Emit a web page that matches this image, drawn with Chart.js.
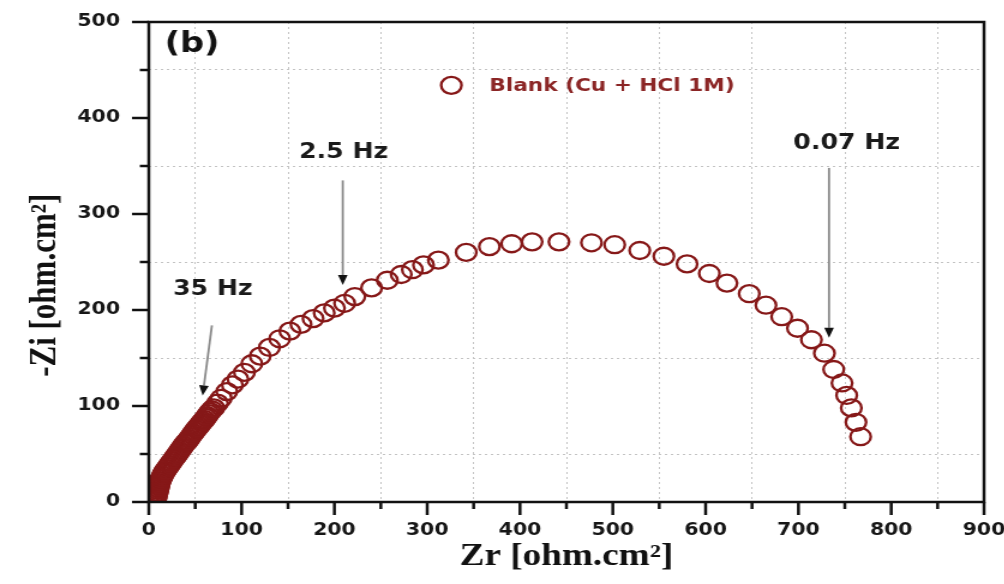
<!DOCTYPE html>
<html><head><meta charset="utf-8">
<script src="https://cdn.jsdelivr.net/npm/chart.js@4.4.1/dist/chart.umd.min.js"></script>
<style>
html,body{margin:0;padding:0;background:#fff;overflow:hidden;}
#wrap{position:absolute;left:0;top:0;width:837px;height:584px;transform:scaleX(1.2);transform-origin:0 0;}
</style></head><body>
<div id="wrap"><canvas id="c"></canvas></div>
<script>
// ---- data ----
const seriesName = 'Blank (Cu + HCl 1M)';
const zr = [7,7.5,8,8.5,9,9.5,10,10.5,11,11.5,12,13,14,15,16,17,18,19.5,21,22.5,24,25.5,27,28.5,30,31.5,33,34.5,36,37.5,39,40.5,42,43.5,45,46.5,48,49.5,51,52.5,54,55.5,57,58.5,60,61.5,63,64.5,66,68,70,74,78,84,90,96,103,111,120,130,141,152,164,177,189,200,211,222,240,257,272,284,296,312,342,367,391,413,442,477,502,529,555,580,604,623,647,665,682,699,714,728,738,747,752,757,762,767];
const zi = [2,4,6,8,10,12,14,16,18,20,22,24,26,28,30,31.5,33,35,37,39,41,43,45,47,49,51,53,55,57,59,61,62.5,64,66,68,70,72,74,76,77.5,79,81,83,84.5,86,88,90,92,94,96,98,103,108,115,122,128,135,144,152,161,170,178,185,191,197,202,207,214,223,231,237,242,247,252,260,266,269,271,271,270,268,262,256,248,238,228,217,205,193,181,169,155,138,124,111,98,83,68];
const xMajorTicks = [0,100,200,300,400,500,600,700,800,900];
const xMinorTicks = [50,150,250,350,450,550,650,750,850];
const yMajorTicks = [0,100,200,300,400,500];
const yMinorTicks = [50,150,250,350,450];
const freqLabels = ['35 Hz','2.5 Hz','0.07 Hz'];
const panelLabel = '(b)';
const xTitle = 'Zr [ohm.cm\u00B2]';
const yTitle = '-Zi [ohm.cm\u00B2]';

// ---- annotation placement (data units) ----
const notePlaces = [
  {tx:69,  ty:221, from:[68,184],  to:[58,111]},
  {tx:210, ty:364, from:[209,335], to:[209,226]},
  {tx:752, ty:373, from:[733,348], to:[733,171]}
];
const legendPlace = {mx:326, my:434, tx:367};
const panelPlace = {x:17, y:476};

const RED = '#861818';
const SANS = '"DejaVu Sans", sans-serif';
const SERIF = '"Liberation Serif", "Times New Roman", serif';

const decor = {
  id:'decor',
  afterDatasetsDraw(chart){
    const {ctx, chartArea:a, scales:{x, y}} = chart;
    ctx.save();
    // frame
    ctx.strokeStyle = '#111'; ctx.lineWidth = 2.5;
    ctx.strokeRect(a.left, a.top, a.right - a.left, a.bottom - a.top);
    // tick marks
    ctx.beginPath();
    xMajorTicks.forEach(v => { const p = x.getPixelForValue(v); ctx.moveTo(p, a.bottom); ctx.lineTo(p, a.bottom + 13); });
    xMinorTicks.forEach(v => { const p = x.getPixelForValue(v); ctx.moveTo(p, a.bottom); ctx.lineTo(p, a.bottom + 7); });
    yMajorTicks.forEach(v => { const p = y.getPixelForValue(v); ctx.moveTo(a.left, p); ctx.lineTo(a.left - 14, p); });
    yMinorTicks.forEach(v => { const p = y.getPixelForValue(v); ctx.moveTo(a.left, p); ctx.lineTo(a.left - 7.5, p); });
    ctx.stroke();

    // frequency notes + arrows
    notePlaces.forEach((n, i) => {
      const x0 = x.getPixelForValue(n.from[0]), y0 = y.getPixelForValue(n.from[1]);
      const x1 = x.getPixelForValue(n.to[0]),   y1 = y.getPixelForValue(n.to[1]);
      const ang = Math.atan2(y1 - y0, x1 - x0);
      const hl = 10, hw = 4;
      const bx = x1 - hl * Math.cos(ang), by = y1 - hl * Math.sin(ang);
      ctx.strokeStyle = '#8a8a8a'; ctx.lineWidth = 1.8;
      ctx.beginPath(); ctx.moveTo(x0, y0); ctx.lineTo(bx, by); ctx.stroke();
      ctx.fillStyle = '#111';
      ctx.beginPath();
      ctx.moveTo(x1, y1);
      ctx.lineTo(bx + hw * Math.sin(ang), by - hw * Math.cos(ang));
      ctx.lineTo(bx - hw * Math.sin(ang), by + hw * Math.cos(ang));
      ctx.closePath(); ctx.fill();
      ctx.fillStyle = '#1a1a1a';
      ctx.font = 'bold 21px ' + SANS;
      ctx.textAlign = 'center'; ctx.textBaseline = 'middle';
      ctx.fillText(freqLabels[i], x.getPixelForValue(n.tx), y.getPixelForValue(n.ty));
    });

    // panel label
    ctx.fillStyle = '#111';
    ctx.font = 'bold 28px ' + SANS;
    ctx.textAlign = 'left'; ctx.textBaseline = 'middle';
    ctx.fillText(panelLabel, x.getPixelForValue(panelPlace.x), y.getPixelForValue(panelPlace.y));

    // legend
    const ds = chart.data.datasets[0];
    const lx = x.getPixelForValue(legendPlace.mx), ly = y.getPixelForValue(legendPlace.my);
    ctx.strokeStyle = ds.borderColor; ctx.lineWidth = ds.pointBorderWidth;
    ctx.beginPath(); ctx.arc(lx, ly, ds.pointRadius, 0, Math.PI * 2); ctx.stroke();
    ctx.fillStyle = '#8b2525';
    ctx.font = 'bold 18px ' + SANS;
    ctx.textAlign = 'left'; ctx.textBaseline = 'middle';
    ctx.fillText(ds.label, x.getPixelForValue(legendPlace.tx), ly + 1);
    ctx.restore();
  }
};

new Chart(document.getElementById('c'), {
  type: 'scatter',
  data: {
    datasets: [{
      label: seriesName,
      data: zr.map((v, i) => ({x: v, y: zi[i]})),
      showLine: false,
      pointStyle: 'circle',
      pointRadius: 8.5,
      pointBorderWidth: 2.3,
      borderColor: RED,
      pointBackgroundColor: 'rgba(0,0,0,0)',
      backgroundColor: 'rgba(0,0,0,0)',
      clip: 0
    }]
  },
  options: {
    responsive: true,
    maintainAspectRatio: false,
    animation: false,
    events: [],
    layout: {padding: {top: 22, right: 17, left: 0, bottom: 0}},
    plugins: {legend: {display: false}, tooltip: {enabled: false}},
    scales: {
      x: {
        type: 'linear', min: 0, max: 900,
        afterBuildTicks: s => { s.ticks = [...xMajorTicks, ...xMinorTicks].sort((a, b) => a - b).map(v => ({value: v})); },
        afterFit: s => { s.height = 82; s.paddingLeft = 0; s.paddingRight = 0; },
        ticks: {
          callback: v => xMajorTicks.includes(v) ? String(v) : '',
          font: {family: SANS, size: 17, weight: 'bold'}, color: '#161616',
          padding: 18, maxRotation: 0, autoSkip: false
        },
        grid: {
          color: c => (c.tick && xMinorTicks.includes(c.tick.value)) ? '#c4c4c4' : 'rgba(0,0,0,0)',
          lineWidth: 1, drawTicks: false
        },
        border: {display: false, dash: [2, 3]},
        title: {display: true, text: xTitle, color: '#111',
          font: {family: SERIF, size: 31, weight: 'bold'}, padding: {top: 0, bottom: 8}}
      },
      y: {
        type: 'linear', min: 0, max: 500,
        afterBuildTicks: s => { s.ticks = [...yMajorTicks, ...yMinorTicks].sort((a, b) => a - b).map(v => ({value: v})); },
        afterFit: s => { s.width = 124; s.paddingTop = 0; s.paddingBottom = 0; },
        ticks: {
          callback: v => yMajorTicks.includes(v) ? String(v) : '',
          font: {family: SANS, size: 17, weight: 'bold'}, color: '#161616',
          padding: 24, autoSkip: false
        },
        grid: {
          color: c => (c.tick && yMinorTicks.includes(c.tick.value)) ? '#c4c4c4' : 'rgba(0,0,0,0)',
          lineWidth: 1, drawTicks: false
        },
        border: {display: false, dash: [2, 3]},
        title: {display: true, text: yTitle + '\u00A0\u00A0\u00A0\u00A0\u00A0\u00A0', color: '#111',
          font: {family: SERIF, size: 31, weight: 'bold'}, padding: {top: 19, bottom: 0}}
      }
    }
  },
  plugins: [decor]
});
</script>
</body></html>
